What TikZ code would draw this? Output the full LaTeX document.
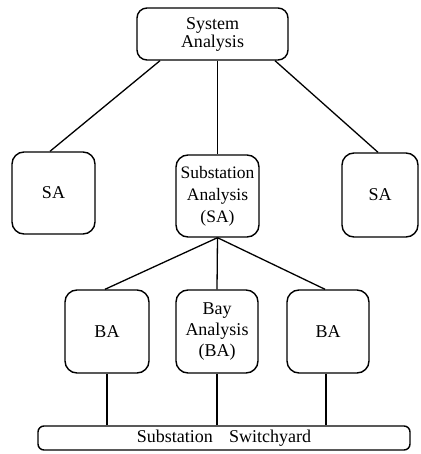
\documentclass[tikz,border=0pt]{standalone}
\usepackage{fontspec}
\setmainfont{Liberation Serif}
\begin{document}
\begin{tikzpicture}[x=1pt,y=-1pt,
  box/.style={draw,line width=1.4pt,rounded corners=12pt,align=center,inner sep=0pt,
    font=\fontsize{18}{21}\selectfont},
  link/.style={line width=1.3pt}]
\useasboundingbox (0,0) rectangle (420,454);
\node[box,rounded corners=10pt,minimum width=151pt,minimum height=52pt,font=\fontsize{18}{18}\selectfont] (sys) at (212.5,34) {System\\Analysis};
\node[box,minimum width=83pt,minimum height=82pt] (saL) at (53.5,193) {SA};
\node[box,minimum width=83pt,minimum height=82pt,font=\fontsize{17.5}{22}\selectfont] (saC) at (217.5,196) {Substation\\Analysis\\(SA)};
\node[box,minimum width=76pt,minimum height=84pt] (saR) at (380,195) {SA};
\node[box,minimum width=84pt,minimum height=83pt] (baL) at (107,331.5) {BA};
\node[box,minimum width=82pt,minimum height=83pt] (baC) at (217,331.5) {Bay\\Analysis\\(BA)};
\node[box,minimum width=82pt,minimum height=83pt] (baR) at (328,331.5) {BA};
\node[box,rounded corners=6pt,minimum width=372pt,minimum height=24pt] (sw) at (224,438) {Substation\hspace{0.9em}Switchyard};
\draw[link] ([xshift=-52.5pt]sys.south) -- ([xshift=-3.5pt]saL.north);
\draw[link] ([xshift=5pt]sys.south) -- (saC.north);
\draw[link] ([xshift=62.5pt]sys.south) -- ([xshift=-2pt]saR.north);
\draw[link] (saC.south) -- ([xshift=-2pt]baL.north);
\draw[link] (saC.south) -- (baC.north);
\draw[link] (saC.south) -- ([xshift=-3pt]baR.north);
\draw[link] (baL.south) -- (baL.south |- sw.north);
\draw[link] (baC.south) -- (baC.south |- sw.north);
\draw[link] ([xshift=-2pt]baR.south) -- ([xshift=-2pt]baR.south |- sw.north);
\end{tikzpicture}
\end{document}
